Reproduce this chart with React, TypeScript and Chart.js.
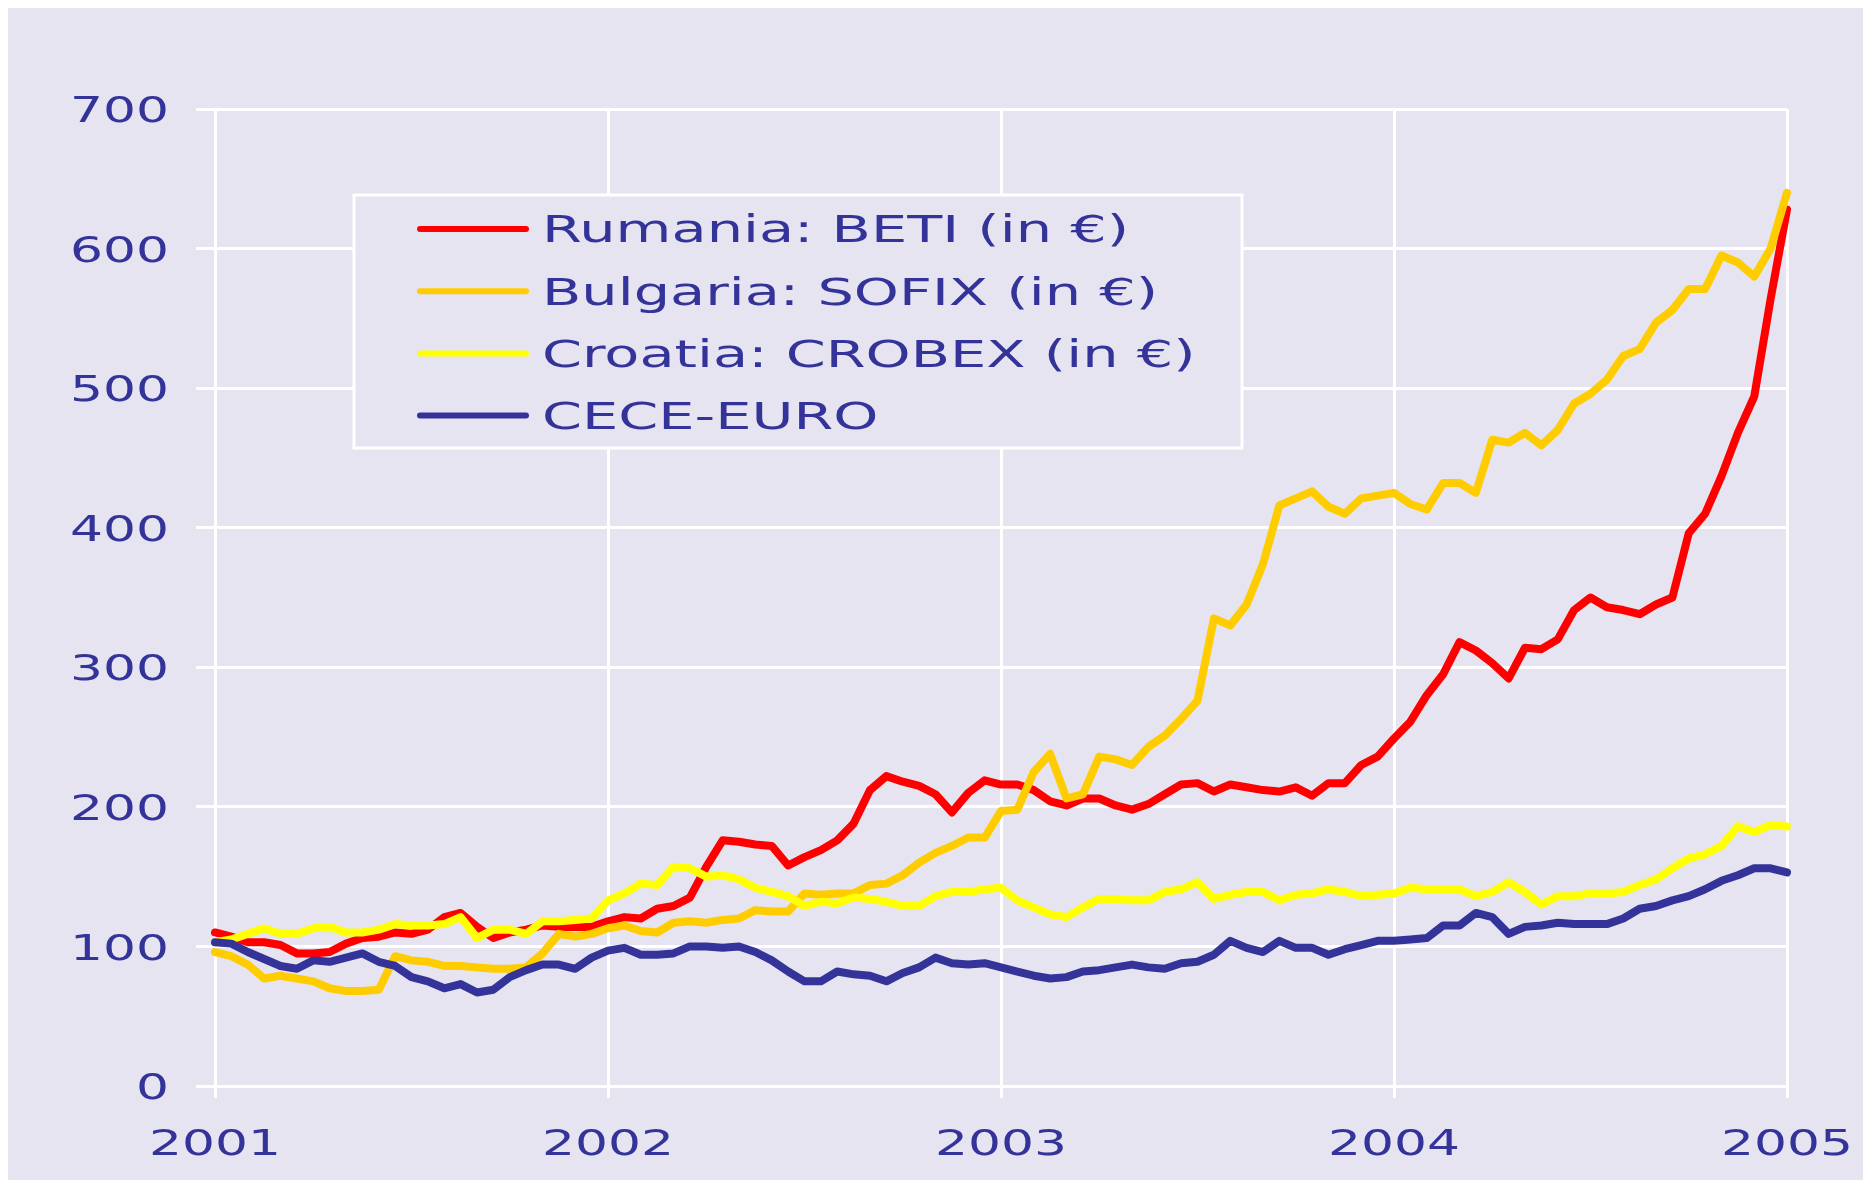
import React, { useEffect, useRef } from "react";
import { Chart, registerables } from "chart.js";

Chart.register(...registerables);

// ---------- data ----------
const years = ["2001", "2002", "2003", "2004", "2005"];
const halfMonths = [
  "01-01", "01-16", "02-01", "02-16", "03-01", "03-16", "04-01", "04-16",
  "05-01", "05-16", "06-01", "06-16", "07-01", "07-16", "08-01", "08-16",
  "09-01", "09-16", "10-01", "10-16", "11-01", "11-16", "12-01", "12-16",
];
const dateLabels: string[] = [];
years.slice(0, 4).forEach((y) => halfMonths.forEach((h) => dateLabels.push(`${y}-${h}`)));
dateLabels.push("2005-01-01");

const yTicks = [0, 100, 200, 300, 400, 500, 600, 700];

const rumania = [
  110, 107, 103, 103, 101, 95, 95, 96, 102, 106, 107, 110, 109, 112, 121, 124, 114, 106, 110, 112, 115, 114, 114, 114, 118,
  121, 120, 127, 129, 135, 157, 176, 175, 173, 172, 158, 164, 169, 176, 188, 212, 222, 218, 215, 209, 196, 210, 219, 216,
  216, 212, 204, 201, 206, 206, 201, 198, 202, 209, 216, 217, 211, 216, 214, 212, 211, 214, 208, 217, 217, 230, 236, 249,
  261, 280, 295, 318, 312, 303, 292, 314, 313, 320, 341, 350, 343, 341, 338, 345, 350, 396, 410, 437, 468, 494, 564, 628,
];
const bulgaria = [
  96, 93, 87, 77, 79, 77, 75, 70, 68, 68, 69, 93, 90, 89, 86, 86, 85, 84, 84, 85, 95, 109, 107, 109, 113,
  115, 111, 110, 117, 118, 117, 119, 120, 126, 125, 125, 138, 137, 138, 138, 144, 145, 151, 160, 167, 172, 178, 178, 197,
  198, 225, 238, 206, 209, 236, 234, 230, 243, 251, 263, 276, 335, 330, 345, 374, 416, 421, 426, 415, 410, 421, 423, 425,
  417, 413, 432, 432, 425, 463, 461, 468, 459, 470, 489, 496, 506, 523, 528, 547, 556, 571, 571, 595, 590, 580, 600, 640,
];
const croatia = [
  103, 105, 109, 113, 109, 109, 113, 114, 110, 110, 112, 116, 115, 115, 116, 121, 106, 112, 112, 109, 118, 118, 119, 120, 133,
  138, 145, 144, 157, 156, 150, 151, 148, 142, 139, 136, 129, 132, 131, 135, 134, 132, 129, 129, 136, 139, 139, 141, 142,
  133, 128, 123, 121, 128, 134, 134, 133, 133, 139, 141, 146, 134, 137, 139, 139, 133, 137, 138, 141, 139, 136, 137, 138,
  142, 141, 141, 141, 136, 139, 146, 139, 130, 136, 136, 138, 138, 139, 144, 148, 156, 163, 166, 172, 186, 182, 187, 186,
];
const ceceEuro = [
  103, 102, 96, 91, 86, 84, 90, 89, 92, 95, 89, 86, 78, 75, 70, 73, 67, 69, 78, 83, 87, 87, 84, 92, 97,
  99, 94, 94, 95, 100, 100, 99, 100, 96, 90, 82, 75, 75, 82, 80, 79, 75, 81, 85, 92, 88, 87, 88, 85,
  82, 79, 77, 78, 82, 83, 85, 87, 85, 84, 88, 89, 94, 104, 99, 96, 104, 99, 99, 94, 98, 101, 104, 104,
  105, 106, 115, 115, 124, 121, 109, 114, 115, 117, 116, 116, 116, 120, 127, 129, 133, 136, 141, 147, 151, 156, 156, 153,
];

const seriesNames = [
  "Rumania: BETI (in €)",
  "Bulgaria: SOFIX (in €)",
  "Croatia: CROBEX (in €)",
  "CECE-EURO",
];
const seriesColors = ["#FF0000", "#FFCC00", "#FFFF00", "#333399"];

// ---------- style ----------
const BG = "#E6E4F0";
const TEXT = "#333399";
const FONT = '"DejaVu Sans", Verdana, sans-serif';
const TICK_SIZE = 36;
const TICK_STRETCH = 1.44;
const LEG_SIZE = 37;
const LEG_STRETCH = 1.55;
const W = 1855;
const H = 1172;

const textPlugin = {
  id: "stretchedText",
  afterDraw(chart: any) {
    const { ctx, chartArea } = chart;
    const xs = chart.scales.x;
    const ys = chart.scales.y;
    ctx.save();
    ctx.fillStyle = TEXT;
    ctx.textBaseline = "alphabetic";

    // y tick labels
    ctx.font = `${TICK_SIZE}px ${FONT}`;
    const capHalf = (TICK_SIZE * 0.729) / 2;
    yTicks.forEach((v) => {
      const y = ys.getPixelForValue(v);
      ctx.save();
      ctx.translate(chartArea.left - 46, y + capHalf);
      ctx.scale(TICK_STRETCH, 1);
      ctx.textAlign = "right";
      ctx.fillText(String(v), 0, 0);
      ctx.restore();
    });

    // x tick labels
    years.forEach((yr) => {
      const idx = dateLabels.indexOf(`${yr}-01-01`);
      const x = xs.getPixelForValue(idx);
      ctx.save();
      ctx.translate(x, chartArea.bottom + 56 + capHalf);
      ctx.scale(TICK_STRETCH, 1);
      ctx.textAlign = "center";
      ctx.fillText(yr, 0, 0);
      ctx.restore();
    });

    // legend box
    const bx = chartArea.left + 139;
    const by = chartArea.top + 86;
    const bw = 888;
    const bh = 253;
    ctx.fillStyle = BG;
    ctx.fillRect(bx, by, bw, bh);
    ctx.strokeStyle = "#FFFFFF";
    ctx.lineWidth = 3;
    ctx.strokeRect(bx, by, bw, bh);

    ctx.font = `${LEG_SIZE}px ${FONT}`;
    const legCap = (LEG_SIZE * 0.729) / 2;
    seriesNames.forEach((name, i) => {
      const ly = by + 34 + i * 62.2;
      ctx.strokeStyle = seriesColors[i];
      ctx.lineWidth = 6;
      ctx.lineCap = "round";
      ctx.beginPath();
      ctx.moveTo(bx + 66, ly);
      ctx.lineTo(bx + 172, ly);
      ctx.stroke();
      ctx.save();
      ctx.fillStyle = TEXT;
      ctx.translate(bx + 188, ly + legCap);
      ctx.scale(LEG_STRETCH, 1);
      ctx.textAlign = "left";
      ctx.fillText(name, 0, 0);
      ctx.restore();
    });
    ctx.restore();
  },
};

export default function App() {
  const ref = useRef<HTMLCanvasElement>(null);

  useEffect(() => {
    const seriesData = [rumania, bulgaria, croatia, ceceEuro];
    const chart = new Chart(ref.current as HTMLCanvasElement, {
      type: "line",
      data: {
        labels: dateLabels,
        datasets: seriesData.map((d, i) => ({
          label: seriesNames[i],
          data: d,
          borderColor: seriesColors[i],
          backgroundColor: seriesColors[i],
          borderWidth: 8,
          pointRadius: 0,
          tension: 0,
          borderJoinStyle: "round" as const,
          borderCapStyle: "round" as const,
          order: 4 - i,
        })),
      },
      options: {
        responsive: false,
        animation: false,
        devicePixelRatio: 1,
        layout: { padding: { top: 101, right: 76, left: 0, bottom: 0 } },
        plugins: {
          legend: { display: false },
          tooltip: { enabled: false },
        },
        scales: {
          x: {
            type: "category",
            offset: false,
            border: { display: false },
            ticks: { display: false, autoSkip: false },
            grid: {
              offset: false,
              lineWidth: 3,
              tickLength: 12,
              color: (c: any) =>
                dateLabels[c.index] && dateLabels[c.index].endsWith("-01-01")
                  ? "#FFFFFF"
                  : "rgba(0,0,0,0)",
            },
            afterFit: (s: any) => {
              s.height = 94;
            },
          },
          y: {
            type: "linear",
            min: 0,
            max: 700,
            border: { display: false },
            ticks: { display: false, stepSize: 100 },
            grid: { color: "#FFFFFF", lineWidth: 3, tickLength: 19 },
            afterFit: (s: any) => {
              s.width = 207;
            },
          },
        },
      },
      plugins: [textPlugin],
    });
    return () => chart.destroy();
  }, []);

  return (
    <div
      style={{
        position: "fixed",
        left: 8,
        top: 8,
        width: W,
        height: H,
        background: BG,
        overflow: "hidden",
      }}
    >
      <canvas ref={ref} width={W} height={H} style={{ display: "block", width: W, height: H }} />
    </div>
  );
}
